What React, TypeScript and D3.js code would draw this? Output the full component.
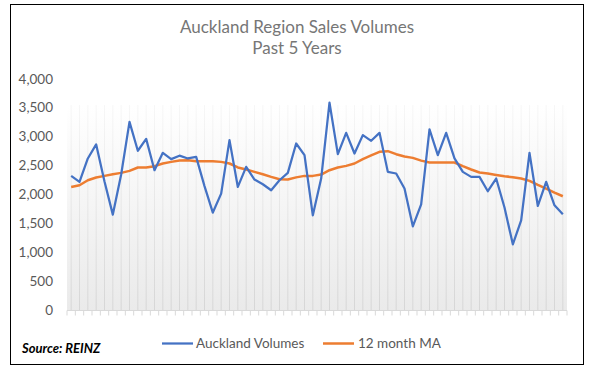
import React from "react";
import * as d3 from "d3";

const months: number[] = d3.range(60);
const volumes: number[] = [
  2325, 2222, 2627, 2870, 2230, 1657, 2350, 3260, 2760, 2966,
  2424, 2724, 2615, 2675, 2627, 2655, 2150, 1692, 2020, 2944,
  2135, 2482, 2263, 2182, 2078, 2251, 2378, 2886, 2684, 1645,
  2280, 3590, 2701, 3070, 2713, 3030, 2932, 3070, 2395, 2367,
  2107, 1455, 1835, 3128, 2684, 3070, 2627, 2395, 2309, 2309,
  2061, 2280, 1780, 1143, 1558, 2724, 1806, 2222, 1818, 1662,
];
const movingAvg: number[] = [
  2135, 2165, 2251, 2298, 2326, 2355, 2378, 2413, 2471, 2471,
  2494, 2540, 2568, 2592, 2597, 2580, 2580, 2580, 2568, 2540,
  2471, 2436, 2395, 2355, 2309, 2268, 2263, 2300, 2326, 2326,
  2349, 2424, 2471, 2499, 2540, 2615, 2679, 2741, 2753, 2701,
  2661, 2637, 2590, 2557, 2557, 2557, 2557, 2494, 2436, 2384,
  2367, 2343, 2320, 2303, 2280, 2240, 2170, 2107, 2038, 1974,
];
const yTicks: number[] = [0, 500, 1000, 1500, 2000, 2500, 3000, 3500, 4000];
const titleLines: string[] = ["Auckland Region Sales Volumes", "Past 5 Years"];
const seriesNames: string[] = ["Auckland Volumes", "12 month MA"];
const sourceText = "Source: REINZ";

const W = 590;
const H = 371;
const plotLeft = 67;
const plotRight = 567;
const plotTop = 79;
const plotBottom = 310.5;
const fillTop = 105;
const font = "Lato, 'Open Sans', sans-serif";

export default function App() {
  const band = d3.scaleBand<number>().domain(months).range([plotLeft, plotRight]).padding(0);
  const x = (i: number) => (band(i) as number) + band.bandwidth() / 2;
  const y = d3.scaleLinear().domain([0, 4000]).range([plotBottom, plotTop]);
  const line = d3.line<number>().x((_, i) => x(i)).y((d) => y(d));
  const fmt = d3.format(",");
  const tickXs = months.map((m) => band(m) as number).concat([plotRight]);

  return (
    <svg width={W} height={H} style={{ position: "absolute", left: 0, top: 0 }}>
      <defs>
        <linearGradient id="bg" x1="0" y1="0" x2="0" y2="1">
          <stop offset="0%" stopColor="#ffffff" />
          <stop offset="100%" stopColor="#eaeaea" />
        </linearGradient>
        <linearGradient id="gl" gradientUnits="userSpaceOnUse" x1="0" y1={fillTop} x2="0" y2={plotBottom}>
          <stop offset="0%" stopColor="#f7f7f7" />
          <stop offset="100%" stopColor="#d6d6d6" />
        </linearGradient>
      </defs>
      <rect x={0} y={0} width={W} height={H} fill="#fff" />
      <rect x={10.5} y={4.5} width={573} height={360} fill="#fff" stroke="#000" strokeWidth={1} />
      {titleLines.map((t, i) => (
        <text key={t} x={297} y={33 + i * 21} textAnchor="middle" fontFamily={font} fontSize={17} fill="#767676">
          {t}
        </text>
      ))}
      <rect x={plotLeft} y={fillTop} width={plotRight - plotLeft} height={plotBottom - fillTop} fill="url(#bg)" />
      {months.map((m) => (
        <line key={m} x1={x(m)} x2={x(m)} y1={fillTop} y2={plotBottom} stroke="url(#gl)" strokeWidth={1} />
      ))}
      <line x1={plotLeft} x2={plotRight} y1={plotBottom} y2={plotBottom} stroke="#d9d9d9" strokeWidth={1} />
      {tickXs.map((tx, i) => (
        <line key={i} x1={tx} x2={tx} y1={plotBottom} y2={plotBottom + 5} stroke="#d9d9d9" strokeWidth={1} />
      ))}
      {yTicks.map((t) => (
        <text key={t} x={53} y={y(t) + 4.5} textAnchor="end" fontFamily={font} fontSize={13.5} fill="#595959">
          {fmt(t)}
        </text>
      ))}
      <path d={line(movingAvg) as string} fill="none" stroke="#ED7D31" strokeWidth={2.5} strokeLinejoin="round" />
      <path d={line(volumes) as string} fill="none" stroke="#4472C4" strokeWidth={2.25} strokeLinejoin="round" />
      <line x1={162} x2={193} y1={343.5} y2={343.5} stroke="#4472C4" strokeWidth={2.25} />
      <text x={196} y={348} fontFamily={font} fontSize={13.5} fill="#595959">{seriesNames[0]}</text>
      <line x1={323} x2={354} y1={343.5} y2={343.5} stroke="#ED7D31" strokeWidth={2.5} />
      <text x={358} y={348} fontFamily={font} fontSize={13.5} fill="#595959">{seriesNames[1]}</text>
      <text x={22} y={353} fontFamily={font} fontSize={13} fontWeight="bold" fontStyle="italic" fill="#000">
        {sourceText}
      </text>
    </svg>
  );
}
